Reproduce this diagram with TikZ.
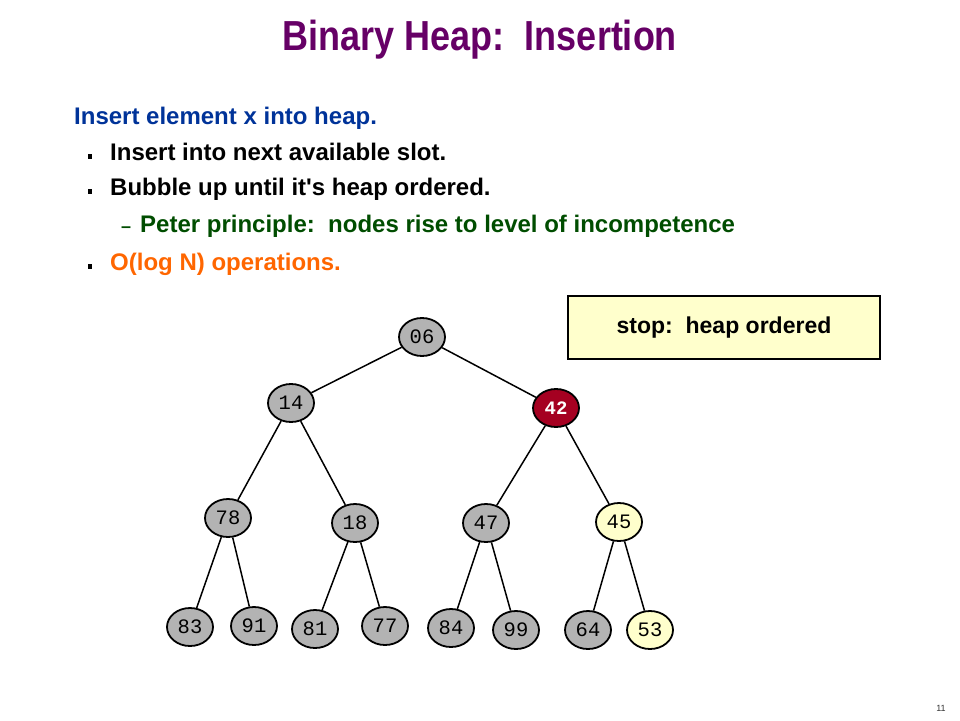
\documentclass[tikz,border=0pt]{standalone}
\usepackage{fontspec}
\setmainfont{Liberation Sans}[Ligatures=TeXOff]
\newfontfamily\monof{Liberation Mono}
\usetikzlibrary{shapes.geometric}
\definecolor{titlec}{HTML}{660066}
\definecolor{bluec}{HTML}{003399}
\definecolor{greenc}{HTML}{004D00}
\definecolor{orangec}{HTML}{FF6600}
\definecolor{grayfill}{HTML}{B3B3B3}
\definecolor{yelfill}{HTML}{FFFFCC}
\definecolor{redfill}{HTML}{A50021}
\tikzset{
  hn/.style={ellipse, draw=black, line width=1.8pt, minimum width=46pt, minimum height=38pt, inner sep=0pt, font=\monof\fontsize{20.5}{20.5}\selectfont, fill=grayfill},
  hy/.style={hn, fill=yelfill},
  hr/.style={hn, fill=redfill, text=white, font=\monof\bfseries\fontsize{19}{19}\selectfont},
  edg/.style={line width=1.5pt, draw=black},
  txt/.style={anchor=base west, inner sep=0pt, font=\bfseries\fontsize{24}{24}\selectfont},
  bul/.style={fill=black},
}
\begin{document}
\begin{tikzpicture}[x=1pt,y=-1pt]
\useasboundingbox (0,0) rectangle (960,720);
% title
\node[anchor=base, inner sep=0pt, text=titlec, font=\bfseries\fontsize{42}{42}\selectfont] (title) at (480,50) {\scalebox{0.857}[1]{Binary Heap:\ \ Insertion}};
% text
\node[txt, text=bluec] (l1) at (74,124) {Insert element x into heap.};
\node[txt] (l2) at (110,160) {Insert into next available slot.};
\node[txt] (l3) at (110,195) {Bubble up until it's heap ordered.};
\node[txt, text=greenc] (l4) at (140,232) {Peter principle:\ \ nodes rise to level of incompetence};
\node[anchor=base west, inner sep=0pt, text=greenc, font=\bfseries\fontsize{18}{18}\selectfont] (d4) at (121,232) {–};
\node[txt, text=orangec] (l5) at (110,270) {O(log N) operations.};
\fill[bul] (88,154) rectangle (92,159);
\fill[bul] (88,189) rectangle (92,194);
\fill[bul] (88,264) rectangle (92,269);
% box
\node[draw=black, line width=1.8pt, fill=yelfill, minimum width=312pt, minimum height=63pt, inner sep=0pt, font=\bfseries\fontsize{23}{23}\selectfont] (stop) at (724,327.5) {stop:\ \ heap ordered};
% nodes
\node[hn] (n06) at (422,337) {06};
\node[hn] (n14) at (291,403) {14};
\node[hr] (n42) at (556,408) {42};
\node[hn] (n78) at (228,518) {78};
\node[hn] (n18) at (355,523) {18};
\node[hn] (n47) at (486,523) {47};
\node[hy] (n45) at (619,522) {45};
\node[hn] (n83) at (190,627) {83};
\node[hn] (n91) at (254,626) {91};
\node[hn] (n81) at (315,629) {81};
\node[hn] (n77) at (385,626) {77};
\node[hn] (n84) at (451,628) {84};
\node[hn] (n99) at (516,630) {99};
\node[hn] (n64) at (588,630) {64};
\node[hy] (n53) at (650,630) {53};
% edges
\draw[edg] (n06) -- (n14);
\draw[edg] (n06) -- (n42);
\draw[edg] (n14) -- (n78);
\draw[edg] (n14) -- (n18);
\draw[edg] (n42) -- (n47);
\draw[edg] (n42) -- (n45);
\draw[edg] (n78) -- (n83);
\draw[edg] (n78) -- (n91);
\draw[edg] (n18) -- (n81);
\draw[edg] (n18) -- (n77);
\draw[edg] (n47) -- (n84);
\draw[edg] (n47) -- (n99);
\draw[edg] (n45) -- (n64);
\draw[edg] (n45) -- (n53);
% page number
\node[anchor=base, inner sep=0pt, font=\fontsize{9}{9}\selectfont, text=black!80] (pg) at (941,711) {11};
\end{tikzpicture}
\end{document}
